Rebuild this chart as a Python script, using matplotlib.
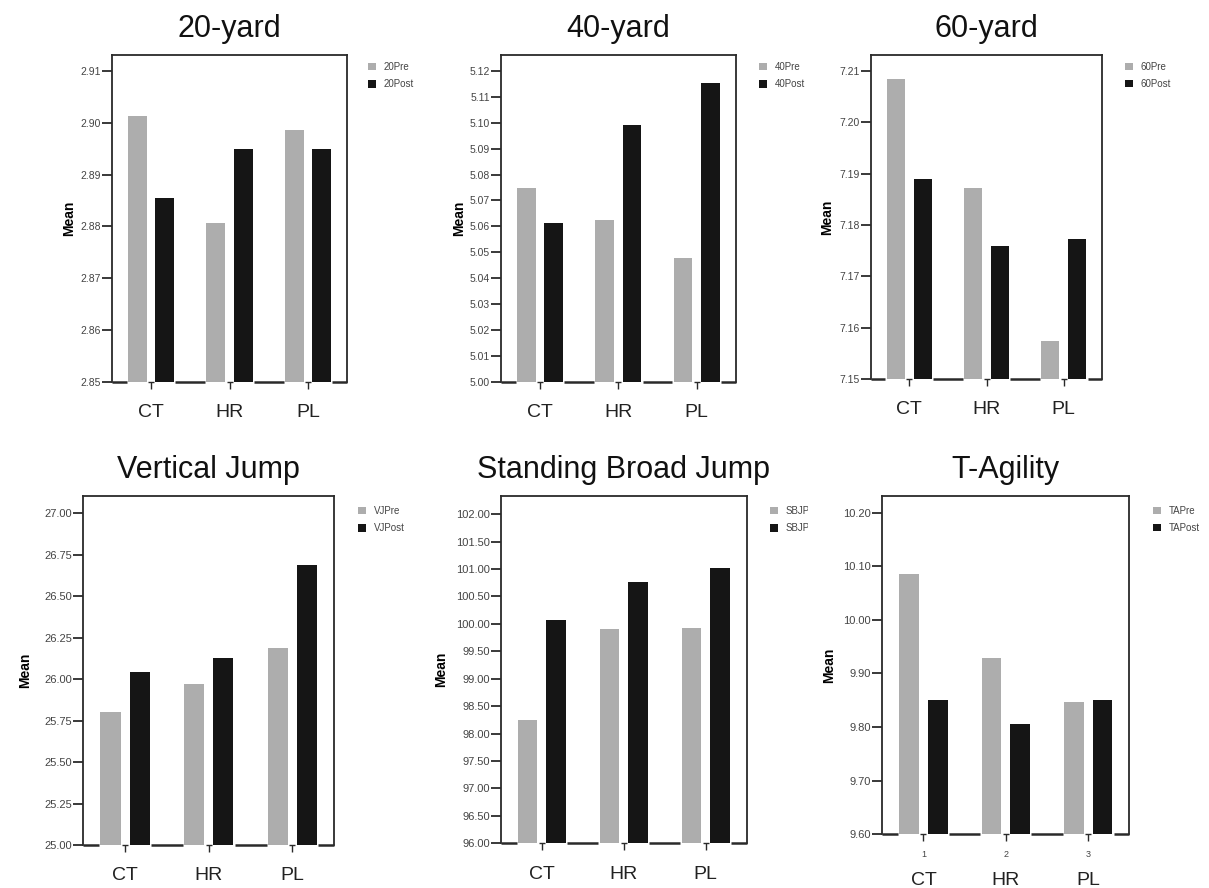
import numpy as np
import matplotlib.pyplot as plt
from matplotlib.transforms import Bbox, TransformedBbox

plt.rcParams['font.family'] = ['Liberation Sans', 'DejaVu Sans']

groups = ["CT", "HR", "PL"]
x = np.arange(len(groups))

titles = ["20-yard", "40-yard", "60-yard",
          "Vertical Jump", "Standing Broad Jump", "T-Agility"]
pre_labels = ["20Pre", "40Pre", "60Pre", "VJPre", "SBJPre", "TAPre"]
post_labels = ["20Post", "40Post", "60Post", "VJPost", "SBJPost", "TAPost"]

# group means
yard20_pre = [2.9013, 2.8807, 2.8985]
yard20_post = [2.8855, 2.8950, 2.8950]
yard40_pre = [5.0747, 5.0623, 5.0477]
yard40_post = [5.0614, 5.0990, 5.1154]
yard60_pre = [7.2085, 7.1873, 7.1575]
yard60_post = [7.1889, 7.1759, 7.1773]
vj_pre = [25.80, 25.97, 26.19]
vj_post = [26.04, 26.13, 26.69]
sbj_pre = [98.25, 99.91, 99.92]
sbj_post = [100.07, 100.77, 101.02]
ta_pre = [10.086, 9.929, 9.846]
ta_post = [9.851, 9.806, 9.851]

pre_vals = [yard20_pre, yard40_pre, yard60_pre, vj_pre, sbj_pre, ta_pre]
post_vals = [yard20_post, yard40_post, yard60_post, vj_post, sbj_post, ta_post]

# y axis: (bottom, top limit, last tick, tick step)
y_axes = [(2.85, 2.9131, 2.91, 0.01),
          (5.00, 5.1262, 5.12, 0.01),
          (7.15, 7.2132, 7.21, 0.01),
          (25.0, 27.104, 27.0, 0.25),
          (96.0, 102.33, 102.0, 0.5),
          (9.60, 10.231, 10.2, 0.1)]

W, H = 1209, 888
# axes boxes in pixels: left, right, top, bottom
boxes = [(112, 347, 54.7, 382), (501, 735.7, 54.7, 382), (870.7, 1102.3, 54.7, 379),
         (83.3, 334.3, 496, 845), (501, 746.7, 496, 843.3), (882.3, 1129.3, 496, 834.3)]
label_x = [-0.153, -0.149, -0.157, -0.202, -0.217, -0.188]
legend_x = [1.089, 1.10, 1.098, 1.095, 1.095, 1.097]
legend_y = [0.978, 0.978, 0.978, 0.971, 0.971, 0.971]

pre_color = '#adadad'
post_color = '#151515'
line_color = '#2a2a2a'
w = 0.24
off = 0.175

fig = plt.figure(figsize=(W / 100, H / 100), dpi=100)

for i in range(6):
    l, r, t, b = boxes[i]
    ax = fig.add_axes([l / W, 1 - b / H, (r - l) / W, (b - t) / H])
    lo, hi, last, step = y_axes[i]

    ax.bar(x - off, pre_vals[i], w, color=pre_color, label=pre_labels[i], zorder=3)
    ax.bar(x + off, post_vals[i], w, color=post_color, label=post_labels[i], zorder=3)

    ax.set_xlim(-0.5, 2.5)
    ax.set_ylim(lo, hi)
    ticks = np.arange(lo, last + step / 2, step)
    ax.set_yticks(ticks)
    ax.set_yticklabels(["%.2f" % v for v in ticks])
    ax.tick_params(axis='y', length=7, width=1.3, pad=1, color=line_color,
                   labelsize=7.5 if i < 3 else 8, labelcolor='#444444')

    # bottom axis line only between the bar groups
    ax.spines['bottom'].set_visible(False)
    for s in ['left', 'right', 'top']:
        ax.spines[s].set_linewidth(1.3)
        ax.spines[s].set_color(line_color)
    starts = np.r_[-0.5, x + 0.31]
    ends = np.r_[x - 0.31, 2.5]
    ax.hlines([lo] * len(starts), starts, ends, color=line_color, linewidth=1.8,
              zorder=4, clip_on=False)
    ax.plot(x, [lo] * 3, linestyle='none', marker='_', ms=5, mew=1,
            color=line_color, clip_on=False, zorder=4)

    ax.set_xticks(x)
    ax.tick_params(axis='x', length=5, width=1, color=line_color, pad=6,
                   labelsize=6.5, labelcolor='#444444')
    if i == 5:
        ax.set_xticklabels(["1", "2", "3"])
        cat_off = -27
    else:
        ax.set_xticklabels([])
        cat_off = -16
    for g, name in zip(x, groups):
        ax.annotate(name, xy=(g, 0), xycoords=ax.get_xaxis_transform(),
                    xytext=(0, cat_off), textcoords='offset points',
                    ha='center', va='top', fontsize=14, color='#222222')

    ax.set_title(titles[i], fontsize=22, pad=13, color='#111111')
    ax.set_ylabel("Mean", fontsize=10, fontweight='bold')
    ax.yaxis.set_label_coords(label_x[i], 0.5)

    leg = ax.legend(loc='upper left', bbox_to_anchor=(legend_x[i], legend_y[i]),
                    frameon=False, fontsize=7, borderpad=0, borderaxespad=0,
                    handlelength=0.8, handleheight=0.8, handletextpad=0.8,
                    labelspacing=0.75)
    for txt in leg.get_texts():
        txt.set_color('#444444')
    if i == 4:
        # the legend text is cut off by the next panel in the original
        clip = TransformedBbox(Bbox([[0, 0], [808 / W, 1]]), fig.transFigure)
        for txt in leg.get_texts():
            txt.set_clip_box(clip)
            txt.set_clip_on(True)

fig.savefig("out.png", dpi=100)
